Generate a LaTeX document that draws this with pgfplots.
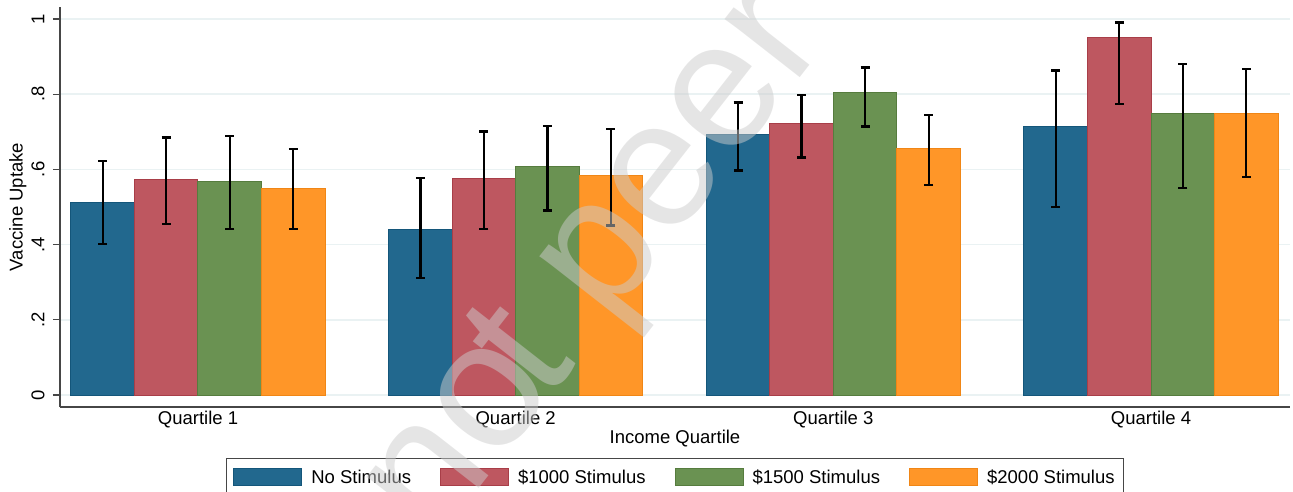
\documentclass[border=0pt]{standalone}
\usepackage{fontspec}
\setmainfont{Liberation Sans}
\usepackage{pgfplots}
\usepackage{pgfplotstable}
\pgfplotsset{compat=1.18}

% Stata-like palette
\definecolor{cblue}{RGB}{34,104,142}
\definecolor{cblueedge}{RGB}{20,86,122}
\definecolor{cred}{RGB}{190,87,96}
\definecolor{credge}{RGB}{168,62,72}
\definecolor{cgreen}{RGB}{106,146,82}
\definecolor{cgreenedge}{RGB}{86,124,62}
\definecolor{corange}{RGB}{255,150,40}
\definecolor{corangeedge}{RGB}{240,134,22}
\definecolor{gridcol}{RGB}{234,242,243}
\definecolor{axiscol}{RGB}{70,70,70}

% mean uptake and confidence bounds by income quartile
\pgfplotstableread{
q y hi lo
1 0.513 0.622 0.402
2 0.439 0.577 0.312
3 0.694 0.778 0.597
4 0.713 0.863 0.500
}\nostim
\pgfplotstableread{
q y hi lo
1 0.572 0.685 0.455
2 0.576 0.701 0.442
3 0.723 0.798 0.632
4 0.952 0.991 0.773
}\stimA
\pgfplotstableread{
q y hi lo
1 0.569 0.689 0.441
2 0.607 0.716 0.491
3 0.805 0.871 0.714
4 0.749 0.880 0.551
}\stimB
\pgfplotstableread{
q y hi lo
1 0.550 0.654 0.441
2 0.585 0.707 0.451
3 0.655 0.744 0.558
4 0.749 0.867 0.579
}\stimC

\begin{document}
\begin{tikzpicture}[font=\fontsize{18.5}{22}\selectfont]
\useasboundingbox (0,0) rectangle (1293pt,491pt);
\clip (0,0) rectangle (1293pt,491pt);
\begin{axis}[
  at={(60pt,84pt)}, anchor=south west,
  scale only axis, width=1230pt, height=400pt,
  xmin=0.5656, xmax=4.4375, ymin=-0.0319, ymax=1.0319,
  ybar, bar width=0.2, bar shift=0pt,
  axis lines=left,
  axis line style={-, draw=axiscol, line width=1.3pt},
  xtick={1,2,3,4},
  xticklabels={Quartile 1,Quartile 2,Quartile 3,Quartile 4},
  xtick style={draw=none},
  xticklabel style={yshift=6pt},
  ytick={0,0.2,0.4,0.6,0.8,1},
  yticklabels={0,.2,.4,.6,.8,1},
  tick align=outside, major tick length=7pt,
  ytick style={draw=axiscol, line width=1.3pt},
  yticklabel style={rotate=90, anchor=south},
  yticklabel shift=5pt,
  ymajorgrids,
  major grid style={draw=gridcol, line width=1.5pt},
  xlabel={Income Quartile}, ylabel={Vaccine Uptake},
  xlabel style={yshift=5pt},
  ylabel style={yshift=-2pt},
  legend columns=4,
  legend style={at={(0.5,-0.1275)}, anchor=north, draw=axiscol, line width=1pt,
    inner xsep=7pt, inner ysep=9pt,
    /tikz/every odd column/.append style={column sep=7pt},
    /tikz/every even column/.append style={column sep=27pt}},
  legend image code/.code={\draw[#1, line width=1pt] (0pt,-8.5pt) rectangle (68pt,8.5pt);},
  error bars/y dir=both, error bars/y explicit,
  error bars/error bar style={black, line width=2.3pt},
  error bars/error mark options={rotate=90, black, line width=2.3pt, mark size=4.5pt},
]
\addplot[fill=cblue, draw=cblueedge, line width=1pt]
  table[x expr=\thisrow{q}-0.3, y=y,
        y error plus expr=\thisrow{hi}-\thisrow{y},
        y error minus expr=\thisrow{y}-\thisrow{lo}] {\nostim};
\addplot[fill=cred, draw=credge, line width=1pt]
  table[x expr=\thisrow{q}-0.1, y=y,
        y error plus expr=\thisrow{hi}-\thisrow{y},
        y error minus expr=\thisrow{y}-\thisrow{lo}] {\stimA};
\addplot[fill=cgreen, draw=cgreenedge, line width=1pt]
  table[x expr=\thisrow{q}+0.1, y=y,
        y error plus expr=\thisrow{hi}-\thisrow{y},
        y error minus expr=\thisrow{y}-\thisrow{lo}] {\stimB};
\addplot[fill=corange, draw=corangeedge, line width=1pt]
  table[x expr=\thisrow{q}+0.3, y=y,
        y error plus expr=\thisrow{hi}-\thisrow{y},
        y error minus expr=\thisrow{y}-\thisrow{lo}] {\stimC};
\legend{No Stimulus,\$1000 Stimulus,\$1500 Stimulus,\$2000 Stimulus}
\end{axis}
% diagonal preprint watermark
\begin{scope}[every node/.style={rotate=52, inner sep=0pt, text=gray!40, opacity=0.5,
    font=\fontsize{180}{200}\selectfont}]
  \node[anchor=base west] at (607.6pt,166.8pt) {peer reviewed};
  \node[anchor=base west] at (546pt,88pt) {t};
  \node[anchor=base east] at (558.3pt,103.8pt) {Preprint no};
\end{scope}
\end{tikzpicture}
\end{document}
